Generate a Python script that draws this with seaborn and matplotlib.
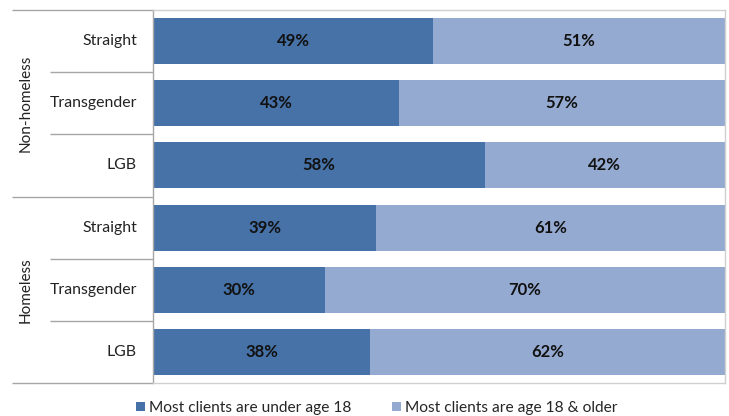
import matplotlib
matplotlib.use("Agg")
import matplotlib.pyplot as plt
import matplotlib.transforms as mtransforms
from matplotlib.patches import Patch
import seaborn as sns
import pandas as pd

groups = ["Non-homeless", "Non-homeless", "Non-homeless", "Homeless", "Homeless", "Homeless"]
categories = ["Straight", "Transgender", "LGB", "Straight", "Transgender", "LGB"]
under_18 = [49, 43, 58, 39, 30, 38]
age_18_plus = [51, 57, 42, 61, 70, 62]
series_names = ["Most clients are under age 18", "Most clients are age 18 & older"]

dark = "#4672A8"
light = "#95AAD1"

sns.set_theme(style="white")
plt.rcParams["font.family"] = ["Lato", "DejaVu Sans"]

df = pd.DataFrame({
    "row": [f"{g}|{c}|{i}" for i, (g, c) in enumerate(zip(groups, categories))],
    "under": under_18,
    "older": age_18_plus,
})
df["total"] = df["under"] + df["older"]

fig = plt.figure(figsize=(7.29, 4.16), dpi=100)
ax = fig.add_axes([153 / 729, 1 - 383 / 416, (725 - 153) / 729, (383 - 10) / 416])

sns.barplot(data=df, y="row", x="total", color=light, saturation=1, width=0.74,
            orient="h", ax=ax, linewidth=0)
sns.barplot(data=df, y="row", x="under", color=dark, saturation=1, width=0.74,
            orient="h", ax=ax, linewidth=0)

ax.set_xlim(0, 100)
ax.set_ylim(len(df) - 0.5, -0.5)
ax.set_xlabel("")
ax.set_ylabel("")
ax.set_xticks([])
ax.set_yticks([])

for side in ["top", "right", "bottom"]:
    ax.spines[side].set_color("#D0D0D0")
    ax.spines[side].set_linewidth(1.0)
ax.spines["left"].set_color("#A6A6A6")
ax.spines["left"].set_linewidth(1.0)

# percentage labels centred in each segment
for i, (u, o) in enumerate(zip(under_18, age_18_plus)):
    ax.text(u / 2, i, f"{u}%", ha="center", va="center", fontsize=12,
            fontweight="bold", color="#111111")
    ax.text(u + o / 2, i, f"{o}%", ha="center", va="center", fontsize=12,
            fontweight="bold", color="#111111")

trans = mtransforms.blended_transform_factory(ax.transAxes, ax.transData)
axw = 725 - 153
x_group = (12 - 153) / axw
x_cat = (50 - 153) / axw
x_lab = (137 - 153) / axw
x_grp_lab = (26 - 153) / axw

# category labels
for i, c in enumerate(categories):
    ax.text(x_lab, i, c, transform=trans, ha="right", va="center",
            fontsize=11.4, color="#222222")

# separators between categories and groups
n = len(categories)
for b in range(n + 1):
    y = b - 0.5
    is_group = b == 0 or b == n or groups[b] != groups[b - 1]
    x0 = x_group if is_group else x_cat
    ax.plot([x0, 0], [y, y], transform=trans, color="#A6A6A6", lw=1.0,
            clip_on=False, solid_capstyle="butt")

# group labels, rotated
seen = []
for g in groups:
    if g not in seen:
        seen.append(g)
for g in seen:
    idx = [i for i, gg in enumerate(groups) if gg == g]
    yc = (idx[0] + idx[-1]) / 2
    ax.text(x_grp_lab, yc, g, transform=trans, ha="center", va="center",
            rotation=90, fontsize=11, color="#222222")

handles = [Patch(facecolor=dark, edgecolor="none"), Patch(facecolor=light, edgecolor="none")]
fig.legend(handles, series_names, loc="center", bbox_to_anchor=(377 / 729, 1 - 408 / 416),
           ncol=2, frameon=False, fontsize=11.2, handlelength=0.55, handleheight=0.55,
           handletextpad=0.3, columnspacing=2.6, borderaxespad=0)

fig.savefig("out.png", dpi=100)
